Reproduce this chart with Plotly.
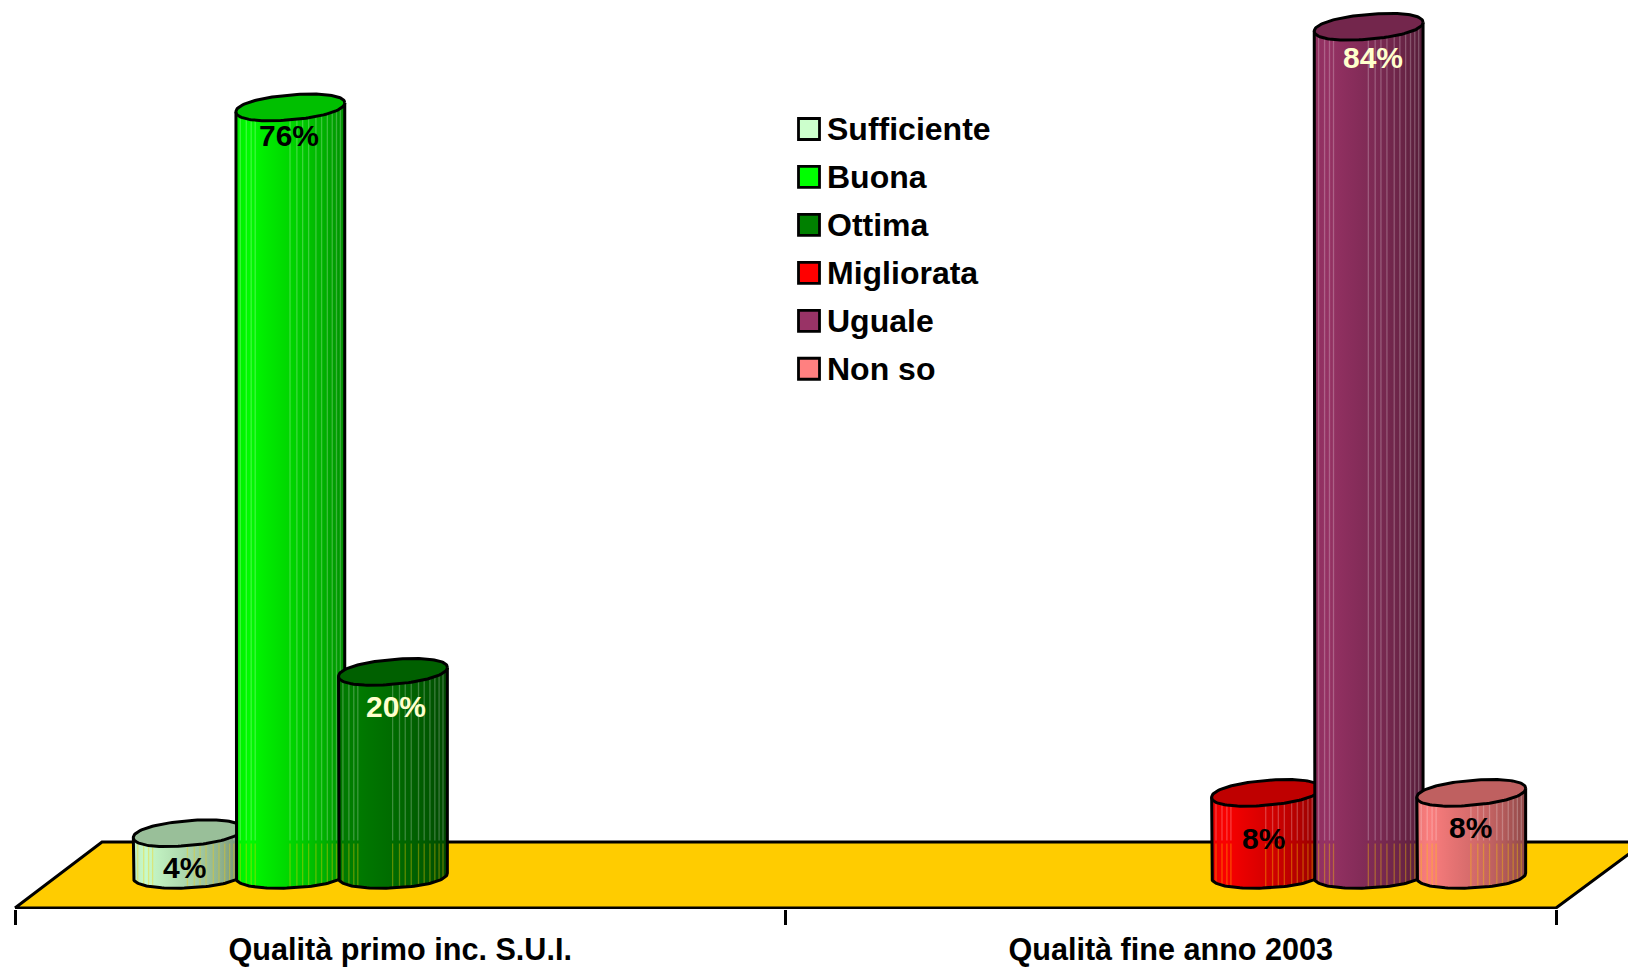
import math
import plotly.graph_objects as go

# ---- data ----
categories = ["Qualità primo inc. S.U.I.", "Qualità fine anno 2003"]
series_names = ["Sufficiente", "Buona", "Ottima", "Migliorata", "Uguale", "Non so"]
sufficiente = [4, 0]
buona = [76, 0]
ottima = [20, 0]
migliorata = [0, 8]
uguale = [0, 84]
non_so = [0, 8]
series_values = [sufficiente, buona, ottima, migliorata, uguale, non_so]

# ---- style ----
base_rgb = [(204, 255, 204), (0, 255, 0), (0, 128, 0), (255, 0, 0), (153, 51, 102), (255, 128, 128)]
label_colors = ["#000000", "#000000", "#FFFFCC", "#000000", "#FFFFCC", "#000000"]
# label offset below the top of the cylinder (px) per series, and x nudge (px)
label_drop = [30, 24, 30, 41, 26, 30]
label_nudge = [-3, -1.5, 3.5, -2.5, 4, -1]
FONT = "Liberation Sans"

W, H = 1628, 967
AXIS_PX = 909          # page y of the bottom of the plot area
ZERO_PX = 878          # page y of value 0 (left edge of the cylinder bases)
PX_Y = 10.08           # px per percentage point
LEFT_PX, RIGHT_PX = 15, 1556   # category axis extent 0..2
PX_X = (RIGHT_PX - LEFT_PX) / 2
SLOT = 102.6           # px between neighbouring series slots
RADIUS = 54.4          # px half width of a cylinder
DEPTH = 88             # px floor depth, horizontal
FLOOR_FRONT_PX, FLOOR_BACK_PX = 908, 842
LINE = 3.0
ROUND = 0.93           # superellipse exponent of the cylinder ends

def dx(px):
    return px / PX_X
def dy(px):
    return px / PX_Y

x_range = [-LEFT_PX / PX_X, (W - LEFT_PX) / PX_X]
y_range = [-(AXIS_PX - ZERO_PX) / PX_Y, ZERO_PX / PX_Y]
floor_back = dy(ZERO_PX - FLOOR_BACK_PX)
floor_front = dy(ZERO_PX - FLOOR_FRONT_PX)

STREAKS = [0.04, 0.095, 0.14, 0.177, 0.497, 0.56, 0.613, 0.668, 0.735, 0.787, 0.84, 0.885, 0.924, 0.96]
N = 60

def shade(rgb, k):
    return "rgb(%d,%d,%d)" % tuple(round(c * k) for c in rgb)

def spow(v, e):
    return math.copysign(abs(v) ** e, v)

def ellipse_arc(cx, cy, tilt, b, t0, t1, n=N):
    """cx in data x, cy in data y; tilt and b in px. Angle 0 = right edge."""
    xs, ys = [], []
    for i in range(n + 1):
        t = t0 + (t1 - t0) * i / n
        c, s = spow(math.cos(t), ROUND), spow(math.sin(t), ROUND)
        xs.append(cx + dx(RADIUS) * c)
        ys.append(cy + dy(tilt) * c + dy(b) * s)
    return xs, ys

def front_height(k):
    return (1 - abs(k) ** (2 / ROUND)) ** (ROUND / 2)

fig = go.Figure()

# floor
fig.add_trace(go.Scatter(
    x=[0, dx(DEPTH - 1), 2 + dx(DEPTH + 1), 2, 0],
    y=[floor_front, floor_back, floor_back, floor_front, floor_front],
    mode="lines", fill="toself", fillcolor="#FFCC00",
    line=dict(color="#000000", width=3), showlegend=False, hoverinfo="skip"))

annotations = []
TOP_TILT, TOP_B = 4.5, 12.4
BASE_TILT, BASE_B = 2.5, 12.4

for s, (name, vals) in enumerate(zip(series_names, series_values)):
    for c, v in enumerate(vals):
        if not v:
            continue
        rgb = base_rgb[s]
        # each category reserves six slots; the floor depth shifts them right
        cx = c + 0.5 + dx(DEPTH / 2) + dx(SLOT) * (s - 2.5)
        top_c = v + dy(TOP_TILT)     # top ellipse centre: left edge sits at value v
        base_c = dy(BASE_TILT)       # base centre: left edge sits at value 0

        # body
        bx, by = ellipse_arc(cx, base_c, BASE_TILT, BASE_B, math.pi, 2 * math.pi)
        tx, ty = ellipse_arc(cx, top_c, TOP_TILT, TOP_B, 2 * math.pi, math.pi)
        scale = [[0, shade(rgb, 0.93)], [0.12, shade(rgb, 0.98)], [0.3, shade(rgb, 0.91)],
                 [0.55, shade(rgb, 0.82)], [0.8, shade(rgb, 0.70)], [1, shade(rgb, 0.56)]]
        fig.add_trace(go.Scatter(
            x=bx + tx + [bx[0]], y=by + ty + [by[0]], mode="lines",
            fill="toself", fillgradient=dict(type="horizontal", colorscale=scale),
            line=dict(width=0), showlegend=False, hoverinfo="skip"))

        # vertical streaks: gaps between facets, showing what lies behind
        up_x, up_y, lo_x, lo_y = [], [], [], []
        for f in STREAKS:
            k = 2 * f - 1
            sn = front_height(k)
            x = cx + dx(RADIUS) * k
            y_top = top_c + dy(TOP_TILT) * k - dy(TOP_B) * sn
            y_bot = base_c + dy(BASE_TILT) * k - dy(BASE_B) * sn
            split = min(floor_back, y_top)
            if y_top > floor_back:
                up_x += [x, x, None]
                up_y += [y_top, floor_back + dy(1.5), None]
            lo_x += [x, x, None]
            lo_y += [split - dy(1.5), y_bot, None]
        if up_x:
            fig.add_trace(go.Scatter(x=up_x, y=up_y, mode="lines", showlegend=False, hoverinfo="skip",
                                     line=dict(color="rgba(255,255,255,0.24)", width=1.3)))
        fig.add_trace(go.Scatter(x=lo_x, y=lo_y, mode="lines", showlegend=False, hoverinfo="skip",
                                 line=dict(color="rgba(255,204,0,0.36)", width=1.3)))

        # outline of the body
        fig.add_trace(go.Scatter(
            x=[tx[-1]] + bx + [tx[0]], y=[ty[-1]] + by + [ty[0]], mode="lines",
            line=dict(color="#000000", width=LINE), showlegend=False, hoverinfo="skip"))

        # top cap
        capx, capy = ellipse_arc(cx, top_c, TOP_TILT, TOP_B, 0, 2 * math.pi, n=2 * N)
        fig.add_trace(go.Scatter(
            x=capx, y=capy, mode="lines", fill="toself", fillcolor=shade(rgb, 0.75),
            line=dict(color="#000000", width=LINE), name=name, showlegend=False, hoverinfo="skip"))

        # value label
        annotations.append(dict(
            x=cx + dx(label_nudge[s]), y=v, xref="x", yref="y", text=f"{v}%", showarrow=False,
            yshift=-label_drop[s], xanchor="center", yanchor="middle",
            font=dict(family=FONT, size=30, weight="bold", color=label_colors[s])))

# legend drawn with rectangles and text so the swatches keep their size
shapes = []
LEG_X0, LEG_X1, LEG_TEXT_X, LEG_Y0, LEG_ROW, LEG_HALF = 798.5, 819.5, 827, 129, 47.95, 10.5
def py(p):
    return (AXIS_PX - p) / AXIS_PX
for i, name in enumerate(series_names):
    yc = LEG_Y0 + i * LEG_ROW
    shapes.append(dict(type="rect", xref="paper", yref="paper",
                       x0=LEG_X0 / W, x1=LEG_X1 / W, y0=py(yc + LEG_HALF), y1=py(yc - LEG_HALF),
                       fillcolor=shade(base_rgb[i], 1), line=dict(color="#000000", width=2.8)))
    annotations.append(dict(
        x=LEG_TEXT_X / W, y=py(yc), xref="paper", yref="paper", text=name, showarrow=False,
        xanchor="left", yanchor="middle", borderpad=0, borderwidth=0,
        font=dict(family=FONT, size=32, weight="bold", color="#000000")))

fig.update_layout(
    width=W, height=H, autosize=False,
    margin=dict(l=0, r=0, t=0, b=H - AXIS_PX, pad=0),
    paper_bgcolor="#FFFFFF", plot_bgcolor="#FFFFFF", showlegend=False,
    annotations=annotations, shapes=shapes,
    xaxis=dict(range=x_range, showgrid=False, zeroline=False, showline=False,
               tickmode="array", tickvals=[c + 0.5 for c in range(len(categories))],
               ticktext=categories, ticks="", ticklabelstandoff=19,
               tickfont=dict(family=FONT, size=30.6, weight="bold", color="#000000"),
               minor=dict(tickmode="array", tickvals=[0, 1, 2], ticks="outside", ticklen=15,
                          tickwidth=2.6, tickcolor="#000000", showgrid=False)),
    yaxis=dict(range=y_range, visible=False, showgrid=False, zeroline=False),
)
fig.write_html("out.html", config=dict(displayModeBar=False),
               post_script="document.body.style.margin='0';document.body.style.overflow='hidden';")
